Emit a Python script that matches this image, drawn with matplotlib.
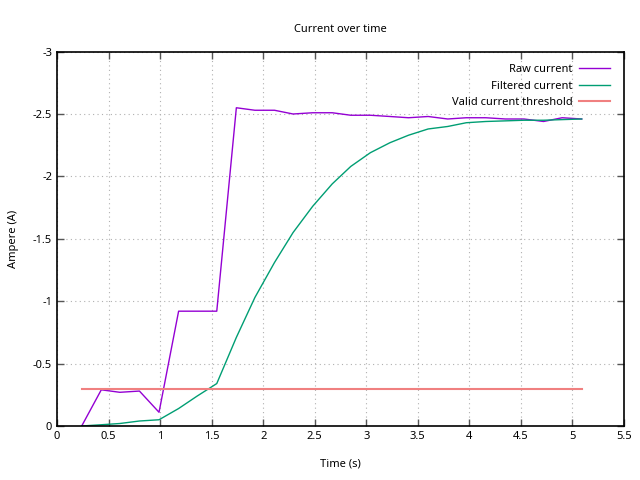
import matplotlib
matplotlib.use('Agg')
import matplotlib.pyplot as plt

plt.rcParams['font.family'] = ['Noto Sans', 'DejaVu Sans']
plt.rcParams['font.size'] = 8

# samples
time_s = [0.24, 0.43, 0.61, 0.80, 0.99, 1.18, 1.36, 1.55, 1.74, 1.92, 2.11, 2.29, 2.48,
          2.67, 2.85, 3.04, 3.23, 3.41, 3.60, 3.79, 3.97, 4.16, 4.35, 4.53, 4.72, 4.90, 5.09]
raw_current = [0.0, -0.29, -0.27, -0.28, -0.11, -0.92, -0.92, -0.92, -2.55, -2.53, -2.53,
               -2.50, -2.51, -2.51, -2.49, -2.49, -2.48, -2.47, -2.48, -2.46, -2.47, -2.47,
               -2.46, -2.46, -2.44, -2.47, -2.46]
filtered_current = [0.0, -0.01, -0.02, -0.04, -0.05, -0.14, -0.24, -0.34, -0.71, -1.03,
                    -1.31, -1.55, -1.76, -1.94, -2.08, -2.19, -2.27, -2.33, -2.38, -2.40,
                    -2.43, -2.44, -2.445, -2.45, -2.45, -2.455, -2.46]
threshold_t = [0.24, 5.09]
threshold = [-0.3, -0.3]

fig = plt.figure(figsize=(6.4, 4.8), dpi=100)
ax = fig.add_axes([0.089, 0.1125, 0.886, 0.78])

ax.plot(time_s, raw_current, color='#9400d3', lw=1.0, label='Raw current')
ax.plot(time_s, filtered_current, color='#009e73', lw=1.0, label='Filtered current')
ax.plot(threshold_t, threshold, color='#f08080', lw=1.5, label='Valid current threshold')

ax.set_xlim(0, 5.5)
ax.set_ylim(0, -3)
ax.set_xticks([0, 0.5, 1, 1.5, 2, 2.5, 3, 3.5, 4, 4.5, 5, 5.5])
ax.set_xticklabels(['0', '0.5', '1', '1.5', '2', '2.5', '3', '3.5', '4', '4.5', '5', '5.5'])
ax.set_yticks([0, -0.5, -1, -1.5, -2, -2.5, -3])
ax.set_yticklabels(['0', '-0.5', '-1', '-1.5', '-2', '-2.5', '-3'])
ax.tick_params(direction='in', top=True, right=True, length=5, width=1, color='#555555')
ax.grid(True, linestyle=(0, (1, 3)), color='#b0b0b0', lw=0.8)
for s in ax.spines.values():
    s.set_linewidth(1.2)

ax.set_xlabel('Time (s)', labelpad=12)
ax.set_ylabel('Ampere (A)', labelpad=10)
ax.set_title('Current over time', fontsize=8, pad=14)

ax.legend(loc='upper right', bbox_to_anchor=(0.975, 0.967), frameon=False,
          markerfirst=False, handlelength=2.8, handletextpad=0.55, labelspacing=0.5,
          borderaxespad=0, borderpad=0)

fig.savefig('out.png', dpi=100)
